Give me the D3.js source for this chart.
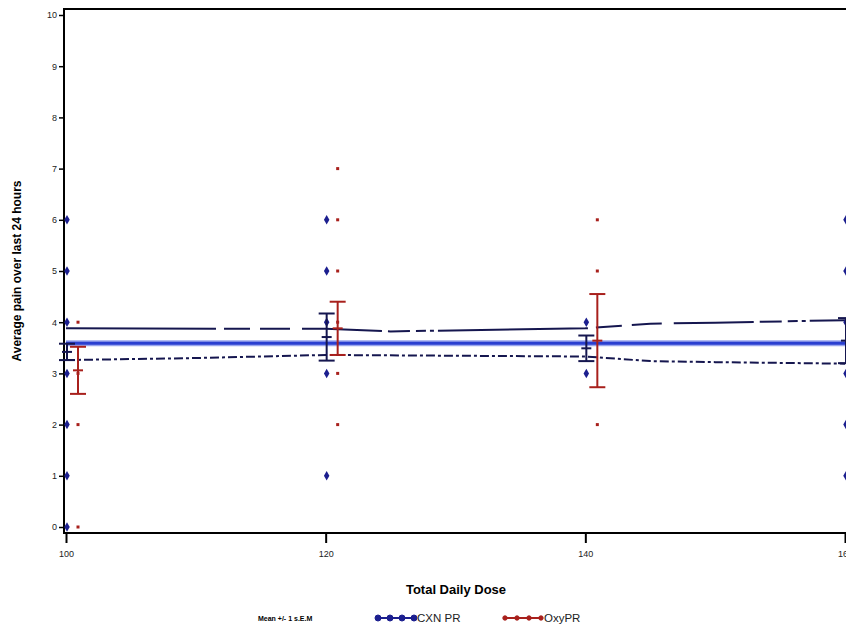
<!DOCTYPE html>
<html>
<head>
<meta charset="utf-8">
<script src="https://cdn.jsdelivr.net/npm/d3@7"></script>
<style>
  body { margin: 0; background: #fff; }
  svg { display: block; font-family: "Liberation Sans", Arial, sans-serif; }
</style>
</head>
<body>
<div id="chart"></div>
<script>
// data
var doses = [100, 120, 140, 160];
var xTicks = [100, 120, 140, 160];
var yTicks = [0, 1, 2, 3, 4, 5, 6, 7, 8, 9, 10];

// individual scores per dose
var cxnPoints = [
  [100, 6], [100, 5], [100, 4], [100, 3], [100, 2], [100, 1], [100, 0],
  [120, 6], [120, 5], [120, 4], [120, 3], [120, 1],
  [140, 4], [140, 3],
  [160, 6], [160, 5], [160, 4], [160, 3], [160, 2], [160, 1]
];
var oxyPoints = [
  [100, 4], [100, 3], [100, 2], [100, 0],
  [120, 7], [120, 6], [120, 5], [120, 4], [120, 3], [120, 2],
  [140, 6], [140, 5], [140, 2],
  [160, 5], [160, 4], [160, 3], [160, 1]
];

// mean +/- 1 s.e.m.
var cxnMean = [3.42, 3.71, 3.49, 3.64];
var cxnSem  = [0.16, 0.46, 0.25, 0.44];
var oxyMean = [3.06, 3.88, 3.64, 3.46];
var oxySem  = [0.46, 0.52, 0.91, 0.49];

// regression fit and confidence limits
var fitDose   = [100, 160];
var fitValue  = [3.59, 3.59];
var upperDose = [100, 120, 125, 140, 145, 150, 160];
var upperCl   = [3.88, 3.87, 3.82, 3.88, 3.97, 3.99, 4.04];
var lowerDose = [100, 110, 120, 140, 145, 150, 160];
var lowerCl   = [3.26, 3.30, 3.36, 3.33, 3.24, 3.22, 3.19];

var W = 846, H = 628;
var blue = "#1c1f8f", navy = "#15164f", fitBlue = "#2a3fd0", red = "#a8201c";

var svg = d3.select("#chart").append("svg")
  .attr("width", W).attr("height", H);

var x = d3.scaleLinear().domain([100, 160]).range([66, 845]);
var y = d3.scaleLinear().domain([0, 10]).range([527, 15]);

var frameLeft = 64, frameTop = 9, frameBottom = 533;

// frame
svg.append("path")
  .attr("d", "M" + (W + 4) + "," + frameTop + "H" + frameLeft + "V" + frameBottom + "H" + (W + 4))
  .attr("fill", "none").attr("stroke", "#000").attr("stroke-width", 2);

// y axis ticks
var yAxis = svg.append("g").attr("transform", "translate(" + frameLeft + ",0)")
  .call(d3.axisLeft(y).tickValues(yTicks).tickFormat(d3.format("d")).tickSize(5).tickPadding(2));
yAxis.select(".domain").remove();
yAxis.selectAll("line").attr("stroke-width", 1.5);
yAxis.selectAll("text").attr("font-size", 9).attr("fill", "#222");

// x axis ticks
var xAxis = svg.append("g").attr("transform", "translate(0," + frameBottom + ")")
  .call(d3.axisBottom(x).tickValues(xTicks).tickFormat(d3.format("d")).tickSize(10).tickPadding(8));
xAxis.select(".domain").remove();
xAxis.selectAll("line").attr("stroke-width", 2);
xAxis.selectAll("text").attr("font-size", 9).attr("fill", "#222");

// axis titles
svg.append("text")
  .attr("transform", "translate(21,271) rotate(-90)")
  .attr("text-anchor", "middle").attr("font-size", 12).attr("font-weight", "bold")
  .text("Average pain over last 24 hours");
svg.append("text")
  .attr("x", 456).attr("y", 594)
  .attr("text-anchor", "middle").attr("font-size", 13).attr("font-weight", "bold")
  .text("Total Daily Dose");

var plot = svg.append("g");

// confidence limits
var line = d3.line().x(function(d) { return x(d[0]); }).y(function(d) { return y(d[1]); });
plot.append("path")
  .attr("d", line(d3.zip(upperDose, upperCl)))
  .attr("fill", "none").attr("stroke", navy).attr("stroke-width", 2)
  .attr("stroke-dasharray", "150,8,26,10,30,12,80,6,22,6,10,4,4,4");
plot.append("path")
  .attr("d", line(d3.zip(lowerDose, lowerCl)))
  .attr("fill", "none").attr("stroke", navy).attr("stroke-width", 2)
  .attr("stroke-dasharray", "9,3,3,3");

// fitted line
plot.append("path")
  .attr("d", line(d3.zip(fitDose, fitValue)))
  .attr("fill", "none").attr("stroke", "#9aa6ee").attr("stroke-width", 6);
plot.append("path")
  .attr("d", line(d3.zip(fitDose, fitValue)))
  .attr("fill", "none").attr("stroke", fitBlue).attr("stroke-width", 3);

// individual points
var cxnOff = 1, oxyOff = 12;
plot.selectAll(".cxn").data(cxnPoints).enter().append("path")
  .attr("class", "cxn")
  .attr("d", d3.symbol().type(d3.symbolDiamond).size(26))
  .attr("transform", function(d) { return "translate(" + (x(d[0]) + cxnOff) + "," + y(d[1]) + ")"; })
  .attr("fill", blue);
plot.selectAll(".oxy").data(oxyPoints).enter().append("rect")
  .attr("class", "oxy")
  .attr("x", function(d) { return x(d[0]) + oxyOff - 1.5; })
  .attr("y", function(d) { return y(d[1]) - 1.5; })
  .attr("width", 3).attr("height", 3)
  .attr("fill", red);

// error bars
function errorBars(means, sems, off, color) {
  var g = plot.append("g").attr("stroke", color).attr("stroke-width", 2).attr("fill", "none");
  doses.forEach(function(dose, i) {
    var cx = x(dose) + off;
    var hi = y(means[i] + sems[i]), lo = y(means[i] - sems[i]);
    g.append("line").attr("x1", cx).attr("x2", cx).attr("y1", hi).attr("y2", lo);
    g.append("line").attr("x1", cx - 8).attr("x2", cx + 8).attr("y1", hi).attr("y2", hi);
    g.append("line").attr("x1", cx - 8).attr("x2", cx + 8).attr("y1", lo).attr("y2", lo);
    g.append("line").attr("x1", cx - 5).attr("x2", cx + 5)
      .attr("y1", y(means[i])).attr("y2", y(means[i]));
  });
}
errorBars(cxnMean, cxnSem, cxnOff, navy);
errorBars(oxyMean, oxySem, oxyOff, red);

// legend
var lg = svg.append("g").attr("transform", "translate(0,618)");
lg.append("text").attr("x", 258).attr("y", 3).attr("font-size", 7).attr("font-weight", "bold")
  .text("Mean +/- 1 s.E.M");
var legendItems = [
  {name: "CXN PR", color: blue, x0: 378},
  {name: "OxyPR", color: red, x0: 505}
];
legendItems.forEach(function(it) {
  lg.append("line").attr("x1", it.x0).attr("x2", it.x0 + 36).attr("y1", 0).attr("y2", 0)
    .attr("stroke", it.color).attr("stroke-width", 2);
  [0, 12, 24, 36].forEach(function(dx) {
    lg.append("circle").attr("cx", it.x0 + dx).attr("cy", 0)
      .attr("r", it.color === blue ? 3 : 2.2)
      .attr("fill", it.color)
      .attr("stroke", it.color).attr("stroke-width", 1);
  });
  lg.append("text").attr("x", it.x0 + 39).attr("y", 4).attr("font-size", 11.5).attr("fill", "#222")
    .text(it.name);
});
</script>
</body>
</html>
